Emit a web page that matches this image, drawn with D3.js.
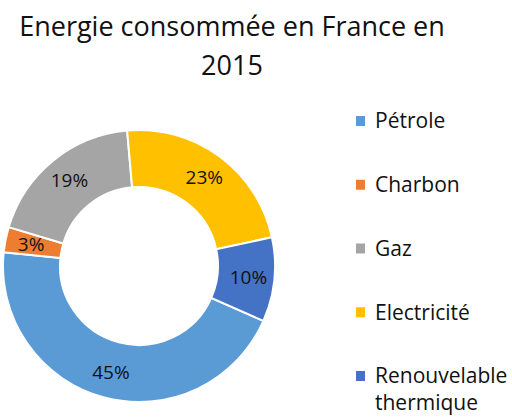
<!DOCTYPE html>
<html><head><meta charset="utf-8">
<script src="https://cdn.jsdelivr.net/npm/d3@7"></script>
<style>body{margin:0;background:#fff}svg{display:block}</style>
</head><body>
<svg id="c" width="512" height="417"></svg>
<script>
const titleLines = ["Energie consommée en France en", "2015"];
const categories = ["Pétrole", "Charbon", "Gaz", "Electricité", "Renouvelable thermique"];
const legendLines = [["Pétrole"], ["Charbon"], ["Gaz"], ["Electricité"], ["Renouvelable", "thermique"]];
const values = [45, 3, 19, 23, 10];
const colors = ["#5B9BD5", "#ED7D31", "#A5A5A5", "#FFC000", "#4472C4"];

const font = "'Open Sans', sans-serif";
const svg = d3.select("#c");

svg.append("g").selectAll("text").data(titleLines).join("text")
  .attr("x", 232).attr("y", (d, i) => 36 + i * 39)
  .attr("text-anchor", "middle")
  .attr("font-family", font).attr("font-size", 27).attr("fill", "#111")
  .text(d => d);

const cx = 139, cy = 266, rOuter = 136, rInner = 79;
const a0 = 113.8 * Math.PI / 180;
const pie = d3.pie().sort(null).value(d => d).startAngle(a0).endAngle(a0 + 2 * Math.PI);
const arcs = pie(values);
const arc = d3.arc().innerRadius(rInner).outerRadius(rOuter);
const labelArc = d3.arc().innerRadius(110).outerRadius(110);
const color = d3.scaleOrdinal().domain(d3.range(categories.length)).range(colors);

const g = svg.append("g").attr("transform", `translate(${cx},${cy})`);
g.selectAll("path").data(arcs).join("path")
  .attr("d", arc).attr("fill", (d, i) => color(i))
  .attr("stroke", "#fff").attr("stroke-width", 2);
g.selectAll("text").data(arcs).join("text")
  .attr("transform", d => `translate(${labelArc.centroid(d)})`)
  .attr("text-anchor", "middle").attr("dy", "0.35em")
  .attr("font-family", font).attr("font-size", 19).attr("fill", "#111")
  .text(d => Math.round(d.value) + "%");

const legY = d3.scalePoint().domain(d3.range(categories.length)).range([121, 376]);
const leg = svg.append("g").selectAll("g").data(categories).join("g")
  .attr("transform", (d, i) => `translate(356,${legY(i)})`);
leg.append("rect").attr("x", 0).attr("y", -5).attr("width", 9).attr("height", 10)
  .attr("fill", (d, i) => color(i));
leg.append("text").attr("font-family", font).attr("font-size", 21).attr("fill", "#111")
  .selectAll("tspan").data((d, i) => legendLines[i]).join("tspan")
  .attr("x", 19).attr("y", (d, j) => j * 27).attr("dy", "0.35em")
  .text(d => d);
</script>
</body></html>
